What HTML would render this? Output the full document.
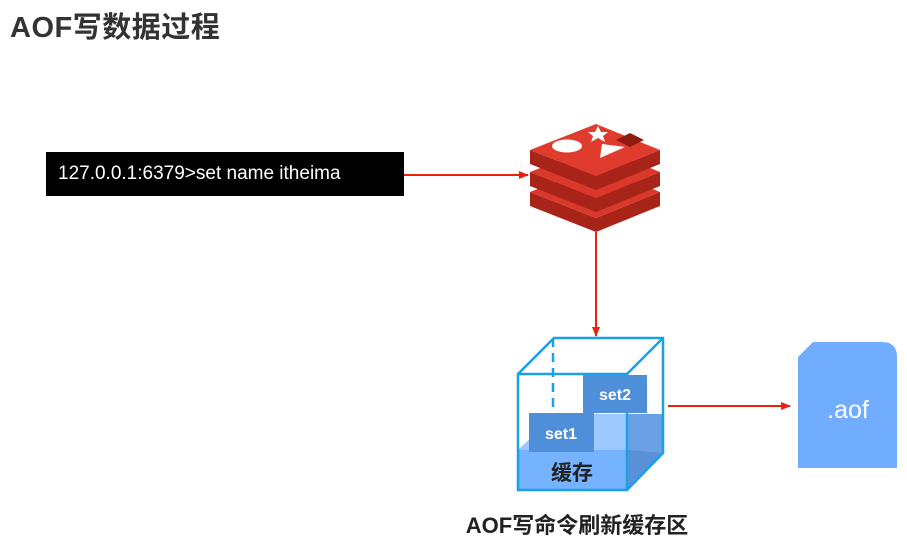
<!DOCTYPE html>
<html><head><meta charset="utf-8"><style>
body{margin:0;width:907px;height:541px;background:#fff;position:relative;overflow:hidden;font-family:"Liberation Sans","Noto Sans CJK SC",sans-serif}
.t{position:absolute;left:10px;top:4px;font-size:29px;font-weight:bold;color:#333;letter-spacing:0.5px}
.cmd{position:absolute;left:46px;top:152px;width:358px;height:44px;background:#000;color:#fff;font-size:19px;line-height:44px;box-sizing:border-box;padding-left:12px}
.lbl{position:absolute;left:400px;top:508px;width:354px;text-align:center;font-size:22px;font-weight:bold;color:#222}
</style></head><body>
<div class="t">AOF写数据过程</div>
<div class="cmd">127.0.0.1:6379&gt;set name itheima</div>
<svg width="907" height="541" style="position:absolute;left:0;top:0">
<defs><marker id="a" markerWidth="10" markerHeight="10" refX="9" refY="5" orient="auto" markerUnits="userSpaceOnUse"><path d="M0,1 L10,5 L0,9Z" fill="#f02010"/></marker></defs>
<line x1="404" y1="175" x2="528" y2="175" stroke="#f02010" stroke-width="2" marker-end="url(#a)"/>
<line x1="596" y1="232" x2="596" y2="336" stroke="#f02010" stroke-width="2" marker-end="url(#a)"/>
<line x1="668" y1="406" x2="790" y2="406" stroke="#f02010" stroke-width="2" marker-end="url(#a)"/>
<!-- redis -->
<g>
<path d="M530,192 L530,206 L596,232 L660,206 L660,192 L596,218Z" fill="#a82318"/>
<path d="M530,192 L596,166 L660,192 L596,218Z" fill="#d9382a"/>
<path d="M530,172 L530,186 L596,212 L660,186 L660,172 L596,198Z" fill="#a82318"/>
<path d="M530,172 L596,146 L660,172 L596,198Z" fill="#d9382a"/>
<path d="M530,150 L530,164 L596,190 L660,164 L660,150 L596,176Z" fill="#a82318"/>
<path d="M530,150 L596,124 L660,150 L596,176Z" fill="#e03c2d"/>
<ellipse cx="567" cy="146" rx="15" ry="6.5" fill="#fff"/>
<polygon points="598,126 601,132 608,132 603,136 605,142 598,138 591,142 593,136 588,132 595,132" fill="#fff"/>
<polygon points="602,144 625,147 600,158" fill="#fff"/>
<polygon points="616,140 630,133 644,140 630,147" fill="#8e1a10"/>
</g>
<!-- cube -->
<polygon points="518,450 555,414 663,414 663,453 627,490 518,490" fill="#9cc8ff"/>
<polygon points="518,450 627,450 627,490 518,490" fill="#75b3ff"/>
<polygon points="627,450 663,414 663,453 627,490" fill="#5a90d6"/>
<polygon points="627,414 663,414 663,453 627,450" fill="#6aa0e6"/>
<line x1="553" y1="338" x2="553" y2="412" stroke="#1aa0ea" stroke-width="2.5" stroke-dasharray="9,6"/>
<g fill="none" stroke="#1aa0ea" stroke-width="2.5">
<rect x="518" y="374" width="109" height="116"/>
<polyline points="518,374 554,338 663,338 663,453 627,490"/>
<line x1="627" y1="374" x2="663" y2="338"/>
</g>
<rect x="583" y="375" width="64" height="38" fill="#4f8ed9"/>
<text x="615" y="400" font-size="16" font-weight="bold" fill="#fff" text-anchor="middle">set2</text>
<rect x="529" y="413" width="65" height="39" fill="#4f8ed9"/>
<text x="561" y="439" font-size="16" font-weight="bold" fill="#fff" text-anchor="middle">set1</text>
<text x="572" y="480" font-size="21" font-weight="bold" fill="#222" text-anchor="middle" font-family="Liberation Sans, Noto Sans CJK SC, sans-serif">缓存</text>
<!-- aof file -->
<path d="M798,357 L813,342 L882,342 Q897,342 897,357 L897,468 L798,468Z" fill="#70adff"/>
<text x="848" y="418" font-size="25" fill="#fff" text-anchor="middle">.aof</text>
</svg>
<div class="lbl">AOF写命令刷新缓存区</div>
</body></html>
